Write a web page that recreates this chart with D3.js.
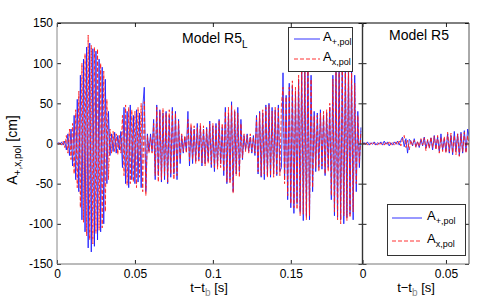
<!DOCTYPE html>
<html><head><meta charset="utf-8">
<script src="https://cdn.jsdelivr.net/npm/d3@7"></script>
<style>
body{margin:0;background:#fff;}
text{font-family:"Liberation Sans",Arial,Helvetica,sans-serif;}
</style></head>
<body><svg id="c" width="491" height="300"></svg>
<script>
// sample step of the waveforms (s)
const dt = 0.001;
// Model R5_L (left panel)
const leftPlus = [
0,1,-1,2,-2,3,-8,12,-15,18,
-28,35,-45,55,-60,85,-95,105,-110,120,
-130,125,-135,118,-128,115,-120,105,-110,95,
-100,80,-50,40,-15,12,-10,14,-12,10,
-8,15,-30,45,-50,40,-55,48,-45,35,
-50,42,-48,38,-55,45,70,-60,12,-10,
12,-10,30,-45,48,-40,42,-48,38,-45,
40,-50,35,-42,45,-38,40,-45,30,-25,
10,-12,8,-10,40,-28,20,-25,18,-22,
25,-20,22,-28,18,-25,20,-22,28,-30,
22,-35,25,-28,30,-25,20,-40,45,-50,
38,-45,52,-60,40,-38,45,-35,30,-20,
10,-8,12,-10,8,-12,10,-15,35,-38,
40,-42,38,-45,48,-40,50,-42,45,-38,
42,-40,48,-35,-30,88,-45,60,-70,75,
-80,72,-87,65,-75,80,-85,95,-96,100,
-90,104,-95,85,-60,40,-35,38,-30,42,
-32,35,-40,38,-30,45,-70,85,-90,95,
-92,100,-95,90,-100,96,-92,98,-88,92,
-95,85,-60,40,-30,20
];
const leftCross = [
0,-1,2,-2,3,-5,10,-12,18,-20,
25,-38,42,-55,65,-80,100,-98,112,-115,
135,-120,122,-125,120,-112,118,-108,100,-105,
90,-85,55,-45,18,-12,15,-10,12,-14,
10,-12,35,-40,48,-52,45,-50,42,-48,
40,-55,45,-42,50,-60,52,-65,10,-12,
8,-12,25,-40,45,-48,40,-45,44,-40,
38,-48,42,-38,40,-45,38,-40,28,-20,
12,-10,10,-12,30,-22,25,-20,22,-25,
20,-22,25,-24,22,-28,18,-25,24,-26,
25,-30,22,-32,28,-30,25,-35,40,-48,
45,-50,48,-62,42,-40,38,-42,25,-18,
12,-10,10,-12,12,-10,8,-12,32,-35,
38,-40,42,-38,45,-42,48,-40,40,-42,
45,-38,44,-40,50,70,-50,58,-65,70,
-75,78,-80,70,-82,85,-90,92,-88,95,
-95,98,-90,80,-55,35,-30,35,-35,38,
-28,40,-38,42,-35,50,-65,80,-85,90,
-95,92,-100,95,-90,92,-96,90,-92,88,
-85,75,-50,35,-25,15
];
// Model R5 (right panel)
const rightPlus = [
0,1,-1,2,-2,1,-1,2,-2,1,
-1,2,-2,3,-1,2,-3,1,-2,2,
-1,3,-2,4,8,-4,6,-12,5,3,
-3,6,-4,2,-5,5,-3,8,-6,4,
-5,7,-8,10,-6,8,-10,12,-8,6,
-10,12,-12,10,-14,15,-10,12,-15,14,
-12,16,-10,18,8
];
const rightCross = [
1,-1,2,-2,1,-1,2,-1,1,-2,
2,-1,1,-2,2,-1,3,-2,1,-2,
2,-2,3,-3,6,10,-5,4,-8,4,
-2,4,-5,3,-4,6,-2,7,-9,5,
-6,8,-5,9,-8,10,-12,8,-10,9,
-12,14,-10,13,-12,10,-14,12,-16,12,
-10,14,-12,10,-5
];
const yTicks = [-150,-100,-50,0,50,100,150];
const xTicksLeft = [0,0.05,0.1,0.15];
const xTicksRight = [0,0.05];
const xDomLeft = [0,0.196], xDomRight = [0,0.0638], yDom = [-150,150];

const svg = d3.select("#c");
const L = 57, M = 362.5, R = 469, T = 23, B = 264;
const xL = d3.scaleLinear(xDomLeft,[L,M]);
const xR = d3.scaleLinear(xDomRight,[M,R]);
const y = d3.scaleLinear(yDom,[B,T]);
const fmt = d => d===0 ? "0" : String(d);

const defs = svg.append("defs");
defs.append("clipPath").attr("id","cl").append("rect").attr("x",L).attr("y",T).attr("width",M-L).attr("height",B-T);
defs.append("clipPath").attr("id","cr").append("rect").attr("x",M).attr("y",T).attr("width",R-M).attr("height",B-T);

function drawPanel(x, plus, cross, clip){
  const g = svg.append("g").attr("clip-path",`url(#${clip})`);
  const line = d3.line().x((d,i)=>x(i*dt)).y(d=>y(d));
  g.append("path").attr("d",line(plus)).attr("fill","none")
    .attr("stroke","#1a1aff").attr("stroke-width",1).attr("stroke-opacity",0.85);
  g.append("path").attr("d",line(cross)).attr("fill","none")
    .attr("stroke","#ff1a1a").attr("stroke-width",1).attr("stroke-dasharray","4,2").attr("stroke-opacity",0.85);
}
drawPanel(xL,leftPlus,leftCross,"cl");
drawPanel(xR,rightPlus,rightCross,"cr");

function axes(x, xt, showY){
  const gb = svg.append("g").attr("transform",`translate(0,${B})`)
    .call(d3.axisBottom(x).tickValues(xt).tickFormat(fmt).tickSize(-4).tickPadding(5));
  const gt = svg.append("g").attr("transform",`translate(0,${T})`)
    .call(d3.axisTop(x).tickValues(xt).tickFormat("").tickSize(-4));
  const r0 = x.range();
  const gl = svg.append("g").attr("transform",`translate(${r0[0]},0)`)
    .call(d3.axisLeft(y).tickValues(yTicks).tickFormat(showY?fmt:"").tickSize(-4).tickPadding(4));
  const gr = svg.append("g").attr("transform",`translate(${r0[1]},0)`)
    .call(d3.axisRight(y).tickValues(yTicks).tickFormat("").tickSize(-4));
  [gb,gt,gl,gr].forEach(g=>{
    g.select(".domain").remove();
    g.selectAll(".tick line").attr("stroke","#222");
    g.selectAll("text").attr("font-size",12).attr("fill","#000");
  });
}
axes(xL,xTicksLeft,true);
axes(xR,xTicksRight,false);

// frame lines
svg.append("line").attr("x1",L).attr("x2",R).attr("y1",T).attr("y2",T).attr("stroke","#000");
svg.append("line").attr("x1",L).attr("x2",R).attr("y1",B).attr("y2",B).attr("stroke","#777");
svg.append("line").attr("x1",L).attr("x2",L).attr("y1",T).attr("y2",B).attr("stroke","#888");
svg.append("line").attr("x1",M).attr("x2",M).attr("y1",T).attr("y2",B).attr("stroke","#333").attr("stroke-width",1.4);
svg.append("line").attr("x1",R).attr("x2",R).attr("y1",T).attr("y2",B).attr("stroke","#555");

// titles
const t1 = svg.append("text").attr("x",182).attr("y",43).attr("font-size",14);
t1.append("tspan").text("Model R5");
t1.append("tspan").attr("font-size",10).attr("dy",5).text("L");
svg.append("text").attr("x",389).attr("y",40).attr("font-size",14).text("Model R5");

// axis labels
function xLabel(cx){
  const t = svg.append("text").attr("x",cx).attr("y",292).attr("font-size",13).attr("text-anchor","middle");
  t.append("tspan").text("t\u2212t");
  t.append("tspan").attr("font-size",10).attr("dy",4).attr("fill","#888").text("b");
  t.append("tspan").attr("dy",-4).text(" [s]");
}
xLabel(209); xLabel(416);
const yl = svg.append("text").attr("transform","translate(17,150) rotate(-90)").attr("font-size",14).attr("text-anchor","middle");
yl.append("tspan").text("A");
yl.append("tspan").attr("font-size",10).attr("dy",4).text("+,x,pol");
yl.append("tspan").attr("dy",-4).text(" [cm]");

// legends
function legend(x0,y0,w,h,lx0,lx1,ly1,ly2,tx){
  svg.append("rect").attr("x",x0).attr("y",y0).attr("width",w).attr("height",h)
    .attr("fill","#fff").attr("stroke","#333").attr("stroke-width",1);
  svg.append("line").attr("x1",lx0).attr("x2",lx1).attr("y1",ly1).attr("y2",ly1).attr("stroke","#3333ff");
  svg.append("line").attr("x1",lx0).attr("x2",lx1).attr("y1",ly2).attr("y2",ly2).attr("stroke","#ff3333").attr("stroke-dasharray","4,2");
  [[ly1,"+,pol"],[ly2,"x,pol"]].forEach(([yy,s])=>{
    const t = svg.append("text").attr("x",tx).attr("y",yy+2).attr("font-size",13);
    t.append("tspan").text("A");
    t.append("tspan").attr("font-size",9).attr("dy",4).text(s);
  });
}
legend(288.5,27.5,64,44,294,320,39,59,323);
legend(387.5,204.5,78,51,392,422,218,241,427);
</script></body></html>
